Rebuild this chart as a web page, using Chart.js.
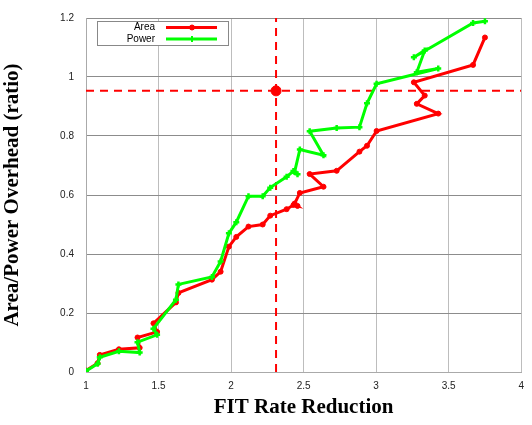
<!DOCTYPE html>
<html>
<head>
<meta charset="utf-8">
<script src="https://cdn.jsdelivr.net/npm/chart.js@4.4.1/dist/chart.umd.min.js"></script>
<style>
  html, body { margin: 0; padding: 0; background: #fff; }
  #wrap { width: 532px; height: 425px; }
</style>
</head>
<body>
<div id="wrap"><canvas id="overheadChart" width="532" height="425"></canvas></div>
<script>
// FIT rate reduction (x), shared by both series
const fitReduction = [1.0, 1.08, 1.095, 1.227, 1.37, 1.355, 1.49, 1.465, 1.62, 1.637, 1.868, 1.928,
    1.985, 2.036, 2.12, 2.218, 2.27, 2.383, 2.43, 2.458, 2.438, 2.474, 2.637, 2.542, 2.728, 2.885,
    2.937, 3.003, 3.428, 3.28, 3.335, 3.26, 3.668, 3.75];

// overhead ratios
const areaOverhead = [0.005, 0.03, 0.058, 0.077, 0.082, 0.117, 0.136, 0.165, 0.236, 0.268, 0.313, 0.34,
    0.425, 0.458, 0.493, 0.5, 0.53, 0.552, 0.566, 0.563, 0.571, 0.607, 0.628, 0.671, 0.682, 0.747,
    0.767, 0.817, 0.876, 0.909, 0.937, 0.982, 1.041, 1.134];
const powerOverhead = [0.003, 0.028, 0.05, 0.07, 0.066, 0.101, 0.126, 0.147, 0.245, 0.297, 0.322, 0.375,
    0.47, 0.508, 0.596, 0.596, 0.625, 0.662, 0.681, 0.67, 0.678, 0.754, 0.735, 0.816, 0.827, 0.83,
    0.911, 0.977, 1.029, 1.016, 1.09, 1.067, 1.183, 1.189];

// target point marked by the dashed cross
const targetX = 2.31;
const targetY = 0.953;

const xTicks = [1, 1.5, 2, 2.5, 3, 3.5, 4];
const yTicks = [0, 0.2, 0.4, 0.6, 0.8, 1, 1.2];

const RED = '#ff0000';
const GREEN = '#00ff00';

function toPoints(xs, ys) {
    return xs.map((x, i) => ({ x: x, y: ys[i] }));
}

// Legend box drawn inside the plot area (top-left)
const innerLegend = {
    id: 'innerLegend',
    afterDatasetsDraw(chart) {
        const ctx = chart.ctx;
        const area = chart.chartArea;
        const left = area.left + 11;
        const top = area.top + 3;
        const items = [
            { label: 'Area', color: RED, style: 'circle' },
            { label: 'Power', color: GREEN, style: 'cross' }
        ];
        ctx.save();
        ctx.fillStyle = '#fff';
        ctx.fillRect(left, top, 131, 24);
        ctx.strokeStyle = '#888';
        ctx.lineWidth = 1;
        ctx.strokeRect(left + 0.5, top + 0.5, 131, 24);
        ctx.font = '10px "Liberation Sans", Arial, sans-serif';
        ctx.textAlign = 'right';
        ctx.textBaseline = 'middle';
        items.forEach((item, i) => {
            const y = top + 6.5 + i * 11.5;
            ctx.fillStyle = '#000';
            ctx.fillText(item.label, left + 58, y);
            ctx.strokeStyle = item.color;
            ctx.lineWidth = 3;
            ctx.beginPath();
            ctx.moveTo(left + 69, y);
            ctx.lineTo(left + 120, y);
            ctx.stroke();
            ctx.fillStyle = item.color;
            ctx.strokeStyle = item.color;
            ctx.lineWidth = item.style === 'circle' ? 1 : 2;
            Chart.helpers.drawPoint(ctx, {
                pointStyle: item.style,
                radius: item.style === 'circle' ? 2.5 : 3,
                borderWidth: item.style === 'circle' ? 1 : 2
            }, left + 95, y);
        });
        ctx.restore();
    }
};

const ctx = document.getElementById('overheadChart').getContext('2d');
const overheadChart = new Chart(ctx, {
    type: 'scatter',
    data: {
        datasets: [
            {
                label: 'Area',
                data: toPoints(fitReduction, areaOverhead),
                showLine: true,
                borderColor: RED,
                backgroundColor: RED,
                borderWidth: 3,
                pointStyle: 'circle',
                pointRadius: 2.5,
                pointBorderWidth: 1,
                order: 2
            },
            {
                label: 'Power',
                data: toPoints(fitReduction, powerOverhead),
                showLine: true,
                borderColor: GREEN,
                backgroundColor: GREEN,
                borderWidth: 3,
                pointStyle: 'cross',
                pointRadius: 3,
                pointBorderWidth: 2.5,
                order: 1
            },
            {
                label: 'vline',
                data: [{ x: targetX, y: 0 }, { x: targetX, y: 1.2 }],
                showLine: true,
                borderColor: RED,
                borderWidth: 2,
                borderDash: [8, 6],
                pointRadius: 0,
                order: 3
            },
            {
                label: 'hline',
                data: [{ x: 1, y: targetY }, { x: 4, y: targetY }],
                showLine: true,
                borderColor: RED,
                borderWidth: 2,
                borderDash: [8, 6],
                pointRadius: 0,
                order: 3
            },
            {
                label: 'target',
                data: [{ x: targetX, y: targetY }],
                backgroundColor: RED,
                borderColor: RED,
                pointRadius: 5,
                order: 0
            }
        ]
    },
    options: {
        responsive: false,
        animation: false,
        layout: { padding: { top: 9, right: 5, bottom: 0, left: 0 } },
        plugins: {
            legend: { display: false },
            tooltip: { enabled: false }
        },
        scales: {
            x: {
                type: 'linear',
                min: 1,
                max: 4,
                afterBuildTicks: (scale) => { scale.ticks = xTicks.map(v => ({ value: v })); },
                afterFit: (scale) => { scale.height = 53; },
                grid: { color: '#bdbdbd', lineWidth: 1, drawTicks: false },
                border: { color: '#aaa' },
                ticks: {
                    padding: 8,
                    color: '#222',
                    font: { family: '"Liberation Sans", Arial, sans-serif', size: 10 },
                    callback: (v) => String(v)
                },
                title: {
                    display: true,
                    text: 'FIT Rate Reduction',
                    color: '#000',
                    font: { family: '"Liberation Serif", "Times New Roman", serif', size: 21, weight: 'bold' },
                    padding: { top: 0, bottom: 5 }
                }
            },
            y: {
                type: 'linear',
                min: 0,
                max: 1.2,
                afterBuildTicks: (scale) => { scale.ticks = yTicks.map(v => ({ value: v })); },
                afterFit: (scale) => { scale.width = 86; },
                grid: { color: '#8c8c8c', lineWidth: 1, drawTicks: false },
                border: { color: '#aaa' },
                ticks: {
                    padding: 12,
                    color: '#222',
                    font: { family: '"Liberation Sans", Arial, sans-serif', size: 10 },
                    callback: (v) => String(v)
                },
                title: {
                    display: true,
                    text: 'Area/Power Overhead (ratio)',
                    color: '#000',
                    font: { family: '"Liberation Serif", "Times New Roman", serif', size: 21, weight: 'bold' },
                    padding: { top: 0, bottom: 0 }
                }
            }
        }
    },
    plugins: [innerLegend]
});
</script>
</body>
</html>
